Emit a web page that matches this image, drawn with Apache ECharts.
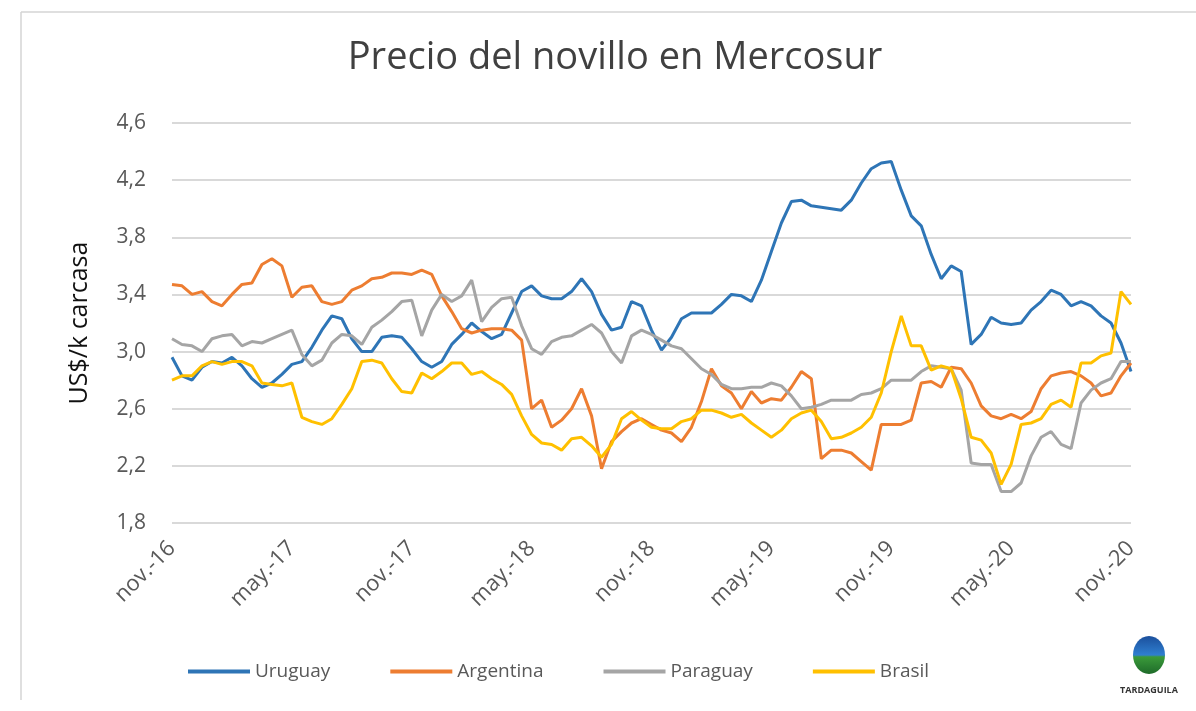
<!DOCTYPE html>
<html>
<head>
<meta charset="utf-8">
<script src="https://cdn.jsdelivr.net/npm/echarts@6/dist/echarts.min.js"></script>
<style>
html,body{margin:0;padding:0;background:#fff;}
#chart{width:1196px;height:711px;}
</style>
</head>
<body>
<div id="chart"></div>
<script>
// ---- data (half-monthly, nov-16 .. nov-20) ----
const tickLabels = ['nov.-16','may.-17','nov.-17','may.-18','nov.-18','may.-19','nov.-19','may.-20','nov.-20'];
const yTicks = [1.8, 2.2, 2.6, 3.0, 3.4, 3.8, 4.2, 4.6];
const seriesNames = ['Uruguay','Argentina','Paraguay','Brasil'];

const uruguay = [2.96,2.83,2.80,2.89,2.93,2.92,2.96,2.90,2.81,2.75,2.78,2.84,2.91,2.93,3.03,3.15,3.25,3.23,3.09,3.00,
  3.00,3.10,3.11,3.10,3.02,2.93,2.89,2.93,3.05,3.12,3.20,3.14,3.09,3.12,3.27,3.42,3.46,3.39,3.37,3.37,
  3.42,3.51,3.42,3.26,3.15,3.17,3.35,3.32,3.15,3.01,3.10,3.23,3.27,3.27,3.27,3.33,3.40,3.39,3.35,3.50,
  3.70,3.90,4.05,4.06,4.02,4.01,4.00,3.99,4.06,4.18,4.28,4.32,4.33,4.13,3.95,3.88,3.68,3.51,3.60,3.56,
  3.05,3.12,3.24,3.20,3.19,3.20,3.29,3.35,3.43,3.40,3.32,3.35,3.32,3.25,3.20,3.06,2.86];
const argentina = [3.47,3.46,3.40,3.42,3.35,3.32,3.40,3.47,3.48,3.61,3.65,3.60,3.38,3.45,3.46,3.35,3.33,3.35,3.43,3.46,
  3.51,3.52,3.55,3.55,3.54,3.57,3.54,3.39,3.28,3.16,3.13,3.15,3.16,3.16,3.15,3.08,2.60,2.66,2.47,2.52,
  2.60,2.74,2.55,2.18,2.37,2.44,2.50,2.53,2.49,2.45,2.43,2.37,2.47,2.65,2.88,2.76,2.71,2.60,2.72,2.64,
  2.67,2.66,2.75,2.86,2.81,2.25,2.31,2.31,2.29,2.23,2.17,2.49,2.49,2.49,2.52,2.78,2.79,2.75,2.89,2.88,
  2.78,2.62,2.55,2.53,2.56,2.53,2.58,2.74,2.83,2.85,2.86,2.83,2.78,2.69,2.71,2.83,2.92];
const paraguay = [3.09,3.05,3.04,3.00,3.09,3.11,3.12,3.04,3.07,3.06,3.09,3.12,3.15,2.98,2.90,2.94,3.06,3.12,3.11,3.05,
  3.17,3.22,3.28,3.35,3.36,3.11,3.29,3.40,3.35,3.39,3.50,3.21,3.31,3.37,3.38,3.18,3.02,2.98,3.07,3.10,
  3.11,3.15,3.19,3.13,3.00,2.92,3.11,3.15,3.12,3.08,3.04,3.02,2.95,2.88,2.84,2.77,2.74,2.74,2.75,2.75,
  2.78,2.76,2.69,2.60,2.61,2.63,2.66,2.66,2.66,2.70,2.71,2.74,2.80,2.80,2.80,2.86,2.90,2.89,2.88,2.73,
  2.22,2.21,2.21,2.02,2.02,2.08,2.27,2.40,2.44,2.35,2.32,2.64,2.73,2.78,2.81,2.93,2.93];
const brasil = [2.80,2.83,2.83,2.90,2.93,2.91,2.93,2.93,2.90,2.78,2.77,2.76,2.78,2.54,2.51,2.49,2.53,2.63,2.74,2.93,
  2.94,2.92,2.81,2.72,2.71,2.85,2.81,2.86,2.92,2.92,2.84,2.86,2.81,2.77,2.70,2.55,2.42,2.36,2.35,2.31,
  2.39,2.40,2.34,2.26,2.35,2.53,2.58,2.52,2.47,2.46,2.46,2.51,2.53,2.59,2.59,2.57,2.54,2.56,2.50,2.45,
  2.40,2.45,2.53,2.57,2.59,2.51,2.39,2.40,2.43,2.47,2.54,2.71,3.00,3.25,3.04,3.04,2.87,2.90,2.88,2.67,
  2.40,2.38,2.29,2.07,2.21,2.49,2.50,2.53,2.63,2.66,2.61,2.92,2.92,2.97,2.99,3.42,3.33];

// categories: half-month dates from 2016-11-01 to 2020-11-01
const categories = [];
{
  let y = 2016, m = 11;
  for (let k = 0; k < uruguay.length; k++) {
    const day = (k % 2 === 0) ? '01' : '16';
    categories.push(y + '-' + String(m).padStart(2, '0') + '-' + day);
    if (k % 2 === 1) { m++; if (m > 12) { m = 1; y++; } }
  }
}

const colors = ['#2E75B6', '#ED7D31', '#A5A5A5', '#FFC000'];
const FONT = '"Open Sans", sans-serif';

const chart = echarts.init(document.getElementById('chart'), null, {renderer: 'canvas'});
const option = {
  animation: false,
  backgroundColor: '#ffffff',
  color: colors,
  grid: {left: 172, right: 65, top: 123, bottom: 188},
  legend: {
    data: seriesNames,
    left: 183, top: 657,
    icon: 'rect', itemWidth: 62, itemHeight: 4, itemGap: 60,
    textStyle: {fontFamily: FONT, fontSize: 19, color: '#595959'}
  },
  xAxis: {
    type: 'category',
    data: categories,
    boundaryGap: false,
    axisLine: {show: false},
    axisTick: {show: false},
    splitLine: {show: false},
    axisLabel: {
      interval: (idx) => idx % 12 === 0,
      formatter: (val, idx) => tickLabels[Math.round(idx / 12)],
      rotate: 45, margin: 22,
      fontFamily: FONT, fontSize: 22, color: '#595959'
    }
  },
  yAxis: {
    type: 'value',
    min: 1.8, max: 4.6,
    name: 'US$/k carcasa',
    nameLocation: 'middle', nameGap: 80, nameRotate: 90,
    nameTextStyle: {fontFamily: FONT, fontSize: 25, color: '#111'},
    axisLine: {show: false},
    axisTick: {show: false, customValues: yTicks},
    axisLabel: {
      customValues: yTicks,
      formatter: (v) => v.toFixed(1).replace('.', ','),
      margin: 26,
      fontFamily: FONT, fontSize: 21, color: '#595959'
    },
    splitLine: {show: true, lineStyle: {color: '#d9d9d9', width: 2}}
  },
  series: [
    {name: seriesNames[0], data: uruguay},
    {name: seriesNames[1], data: argentina},
    {name: seriesNames[2], data: paraguay},
    {name: seriesNames[3], data: brasil}
  ].map((s, i) => Object.assign(s, {
    type: 'line', showSymbol: false, symbol: 'none',
    lineStyle: {width: 3, color: colors[i]}, itemStyle: {color: colors[i]},
    z: 2 + i
  })),
  graphic: [
    {type: 'line', shape: {x1: 21, y1: 12, x2: 1196, y2: 12}, style: {stroke: '#d4d4d4', lineWidth: 1.5}, silent: true},
    {type: 'line', shape: {x1: 21, y1: 12, x2: 21, y2: 700}, style: {stroke: '#d4d4d4', lineWidth: 1.5}, silent: true},
    {type: 'text', x: 615, y: 58, style: {text: 'Precio del novillo en Mercosur', font: '38px ' + FONT, fill: '#404040', textAlign: 'center', textVerticalAlign: 'middle'}},
    {type: 'ellipse', shape: {cx: 1149, cy: 655, rx: 16, ry: 19}, style: {
      fill: {type: 'linear', x: 0, y: 0, x2: 0, y2: 1, colorStops: [
        {offset: 0, color: '#1b4f9c'}, {offset: 0.5, color: '#2f7fd0'}, {offset: 0.55, color: '#3a9a3a'}, {offset: 1, color: '#1f6b2a'}]}
    }},
    {type: 'text', x: 1149, y: 690, style: {text: 'TARDAGUILA', font: 'bold 9px ' + FONT, fill: '#333', textAlign: 'center', textVerticalAlign: 'middle'}}
  ]
};
chart.setOption(option);
</script>
</body>
</html>
